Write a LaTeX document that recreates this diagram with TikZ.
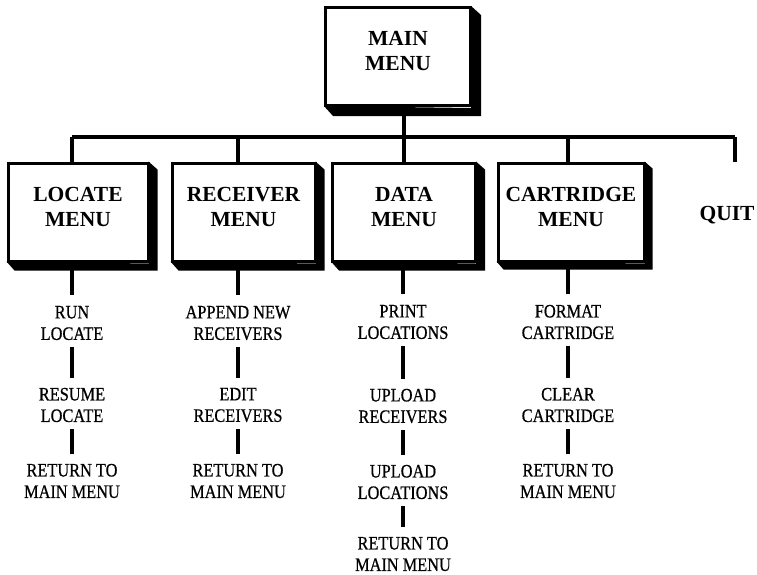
\documentclass[tikz,border=0pt]{standalone}
\usepackage{fontspec}
\setmainfont{Liberation Serif}
\newfontfamily\itemfont[FakeStretch=0.86,FakeBold=0.6]{Liberation Serif}
\begin{document}
\begin{tikzpicture}[x=1pt,y=-1pt,
  menubox/.style={draw,line width=3pt,fill=white,inner sep=0pt,minimum height=98pt},
  boxlabel/.style={align=center,font=\fontsize{21.5}{25}\selectfont\bfseries,inner sep=0pt},
  item/.style={align=center,font=\itemfont\fontsize{19}{21.5}\selectfont,inner sep=0pt},
  conn/.style={line width=3.2pt},
  sub/.style={conn,shorten <=7pt,shorten >=10pt},
  ]
\useasboundingbox (0,0) rectangle (757,574);

% boxes
\node[menubox,minimum width=145pt] (main) at (398,56.5) {};
\node[menubox,minimum width=140pt] (locate) at (78,212) {};
\node[menubox,minimum width=143pt] (receiver) at (243.5,212) {};
\node[menubox,minimum width=143pt] (data) at (404,212) {};
\node[menubox,minimum width=146pt] (cartridge) at (571,212) {};

% shadows
\foreach \n/\d in {main/9,locate/8,receiver/8,data/8,cartridge/7}{
  \fill ([xshift=-1pt]\n.north east) -- ([shift={(\d,\d)}]\n.north east)
        -- ([shift={(\d,\d)}]\n.south east) -- ([shift={(\d,\d)}]\n.south west)
        -- ([yshift=1pt]\n.south west) -- ([shift={(-1,1)}]\n.south east) -- cycle;
}

% box labels
\node[boxlabel] (mainlbl) at ([yshift=6pt]main.center) {MAIN\\MENU};
\node[boxlabel] (locatelbl) at ([yshift=5pt]locate.center) {LOCATE\\MENU};
\node[boxlabel] (receiverlbl) at ([yshift=5pt]receiver.center) {RECEIVER\\MENU};
\node[boxlabel] (datalbl) at ([yshift=5pt]data.center) {DATA\\MENU};
\node[boxlabel] (cartridgelbl) at ([yshift=5pt]cartridge.center) {CARTRIDGE\\MENU};
\node[boxlabel] (quit) at (727,215) {QUIT};

% bar
\coordinate (bl) at (72,137);
\coordinate (br) at (735,137);
\coordinate (tR) at (238,137);
\coordinate (tC) at (568,137);
\coordinate (qe) at (735,162);
\draw[conn] (bl) -- (br);
\draw[conn] (main.south -| data.north) -- (data.north);
\draw[conn] (bl) -- (bl |- locate.north);
\draw[conn] (tR) -- (tR |- receiver.north);
\draw[conn] (tC) -- (tC |- cartridge.north);
\draw[conn] (br) -- (qe);

% locate column
\node[item] (l1) at (72,323) {RUN\\LOCATE};
\node[item] (l2) at (72,405) {RESUME\\LOCATE};
\node[item] (l3) at (72,481) {RETURN TO\\MAIN MENU};
% receiver column
\node[item] (r1) at (238,323) {APPEND NEW\\RECEIVERS};
\node[item] (r2) at (238,405) {EDIT\\RECEIVERS};
\node[item] (r3) at (238,481) {RETURN TO\\MAIN MENU};
% data column
\node[item] (d1) at (403,322) {PRINT\\LOCATIONS};
\node[item] (d2) at (403,406) {UPLOAD\\RECEIVERS};
\node[item] (d3) at (403,482) {UPLOAD\\LOCATIONS};
\node[item] (d4) at (403,554) {RETURN TO\\MAIN MENU};
% cartridge column
\node[item] (c1) at (568,322) {FORMAT\\CARTRIDGE};
\node[item] (c2) at (568,405) {CLEAR\\CARTRIDGE};
\node[item] (c3) at (568,481) {RETURN TO\\MAIN MENU};

% connectors box -> first item
\draw[conn,shorten >=11pt] (l1.north |- locate.south) -- (l1.north);
\draw[conn,shorten >=11pt] (r1.north |- receiver.south) -- (r1.north);
\draw[conn,shorten >=11pt] (d1.north |- data.south) -- (d1.north);
\draw[conn,shorten >=11pt] (c1.north |- cartridge.south) -- (c1.north);

% item connectors
\draw[sub] (l1) -- (l2);
\draw[sub] (l2) -- (l3);
\draw[sub] (r1) -- (r2);
\draw[sub] (r2) -- (r3);
\draw[sub] (d1) -- (d2);
\draw[sub] (d2) -- (d3);
\draw[sub] (d3) -- (d4);
\draw[sub] (c1) -- (c2);
\draw[sub] (c2) -- (c3);
\end{tikzpicture}
\end{document}
